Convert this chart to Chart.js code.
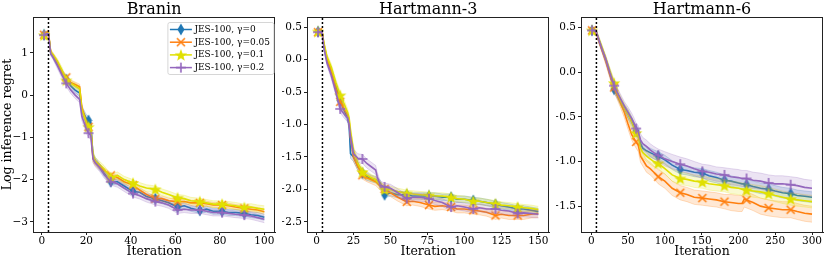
<!DOCTYPE html>
<html>
<head>
<meta charset="utf-8">
<script src="https://cdn.jsdelivr.net/npm/chart.js@4.4.1/dist/chart.umd.min.js"></script>
<style>
  body { margin: 0; background: #fff; width: 830px; height: 260px; position: relative; overflow: hidden; }
  canvas { position: absolute; top: 0; }
</style>
</head>
<body>
<canvas id="c0" width="282" height="260" style="left:0px"></canvas>
<canvas id="c1" width="274" height="260" style="left:282px"></canvas>
<canvas id="c2" width="274" height="260" style="left:556px"></canvas>
<script>
const series_names = ['JES-100, γ=0', 'JES-100, γ=0.05', 'JES-100, γ=0.1', 'JES-100, γ=0.2'];
const series_colors = ['#1f77b4', '#ff7f0e', '#e0e000', '#9467bd'];
const series_markers = ['diamond', 'x', 'star', 'plus'];
const titles = ['Branin', 'Hartmann-3', 'Hartmann-6'];
const n_init = [3, 4, 7];

// Branin
const branin_iter = [1,2,3,4,5, 7,9,11,13,15, 17,18,20,21,22, 23,24,26,28,31, 34,37,41,44,47, 51,54,57,61,64, 67,71,74,77,81, 84,87,91,94,97, 100];
const branin_g0 = [1.43,1.45,1.45,1.0,0.92, 0.75,0.55,0.37,0.22,0.12, 0.05,-0.35,-0.55,-0.6,-0.65, -1.45,-1.55,-1.7,-1.85,-2.05, -2.05,-2.15,-2.28,-2.3,-2.4, -2.45,-2.5,-2.55,-2.65,-2.62, -2.68,-2.73,-2.7,-2.75,-2.75, -2.78,-2.78,-2.8,-2.83,-2.85, -2.89];
const branin_g005 = [1.43,1.48,1.48,1.02,0.95, 0.78,0.55,0.42,0.3,0.25, 0.2,-0.3,-0.65,-0.75,-0.8, -1.5,-1.6,-1.7,-1.78,-1.9, -1.95,-2.05,-2.13,-2.25,-2.35, -2.45,-2.45,-2.5,-2.52,-2.52, -2.55,-2.55,-2.57,-2.6,-2.6, -2.62,-2.65,-2.68,-2.7,-2.72, -2.76];
const branin_g01 = [1.42,1.45,1.47,1.02,0.96, 0.8,0.6,0.35,0.28,0.22, 0.15,-0.35,-0.65,-0.75,-0.78, -1.4,-1.55,-1.65,-1.75,-1.95, -1.9,-2.0,-2.08,-2.15,-2.2, -2.23,-2.3,-2.35,-2.43,-2.45, -2.5,-2.52,-2.55,-2.58,-2.58, -2.6,-2.62,-2.66,-2.65,-2.68, -2.7];
const branin_g02 = [1.42,1.45,1.45,0.98,0.9, 0.7,0.48,0.28,0.12,0.0, -0.1,-0.5,-0.8,-0.9,-0.95, -1.5,-1.6,-1.72,-1.88,-2.05, -2.1,-2.2,-2.33,-2.38,-2.45, -2.52,-2.55,-2.6,-2.72,-2.7, -2.72,-2.72,-2.75,-2.78,-2.78, -2.8,-2.82,-2.84,-2.86,-2.9, -2.94];
const branin_e0 = [0.03,0.03,0.03,0.05,0.05, 0.06,0.06,0.07,0.07,0.07, 0.07,0.09,0.09,0.09,0.09, 0.09,0.08,0.08,0.07,0.07, 0.07,0.07,0.07,0.07,0.07, 0.07,0.07,0.07,0.07,0.07, 0.07,0.07,0.07,0.07,0.07, 0.07,0.07,0.07,0.07,0.07, 0.07];
const branin_e005 = [0.03,0.03,0.03,0.05,0.05, 0.06,0.06,0.06,0.06,0.06, 0.06,0.08,0.08,0.08,0.08, 0.08,0.07,0.07,0.06,0.06, 0.06,0.06,0.06,0.06,0.06, 0.06,0.06,0.06,0.06,0.06, 0.06,0.06,0.06,0.06,0.06, 0.06,0.06,0.06,0.06,0.06, 0.06];
const branin_e01 = [0.03,0.03,0.03,0.05,0.05, 0.06,0.07,0.07,0.07,0.07, 0.07,0.09,0.09,0.09,0.09, 0.09,0.08,0.08,0.08,0.08, 0.08,0.08,0.08,0.08,0.08, 0.08,0.08,0.08,0.08,0.08, 0.08,0.08,0.08,0.08,0.08, 0.08,0.08,0.08,0.08,0.08, 0.08];
const branin_e02 = [0.03,0.03,0.03,0.05,0.05, 0.07,0.07,0.08,0.08,0.08, 0.08,0.1,0.1,0.1,0.1, 0.1,0.09,0.09,0.08,0.08, 0.08,0.08,0.08,0.08,0.08, 0.08,0.08,0.08,0.08,0.08, 0.08,0.08,0.08,0.08,0.08, 0.08,0.08,0.08,0.08,0.08, 0.08];
const branin_marks = [1, 11, 21, 31, 41, 51, 61, 71, 81, 91];
const branin_xticks = [0, 20, 40, 60, 80, 100];
const branin_yticks = [-3, -2, -1, 0, 1];

// Hartmann-3
const h3_iter = [1,3,4,5,7, 10,13,16,19,21, 22,23,25,28,31, 34,37,40,41,43, 46,50,55,61,65, 70,76,80,85,91, 95,100,106,110,115, 121,125,130,136,140, 145,150];
const h3_g0 = [0.43,0.43,0.38,0.2,0.0, -0.18,-0.4,-0.63,-0.8,-0.9, -1.0,-1.45,-1.5,-1.65,-1.75, -1.8,-1.83,-1.85,-1.87,-1.9, -2.08,-2.05,-2.08,-2.08,-2.1, -2.1,-2.1,-2.1,-2.12,-2.12, -2.15,-2.15,-2.17,-2.18,-2.2, -2.23,-2.25,-2.27,-2.3,-2.3, -2.32,-2.34];
const h3_g005 = [0.42,0.45,0.4,0.22,0.02, -0.18,-0.45,-0.65,-0.78,-0.85, -0.95,-1.2,-1.5,-1.65,-1.78, -1.82,-1.85,-1.88,-1.9,-1.95, -1.99,-2.05,-2.12,-2.19,-2.18, -2.2,-2.24,-2.26,-2.25,-2.27, -2.3,-2.3,-2.32,-2.33,-2.35, -2.4,-2.38,-2.4,-2.4,-2.4, -2.38,-2.37];
const h3_g01 = [0.43,0.44,0.4,0.25,0.05, -0.12,-0.35,-0.55,-0.7,-0.82, -0.9,-1.1,-1.4,-1.6,-1.73, -1.78,-1.82,-1.85,-1.88,-1.92, -2.0,-2.0,-2.03,-2.06,-2.07, -2.08,-2.09,-2.1,-2.1,-2.12, -2.14,-2.15,-2.18,-2.18,-2.2, -2.22,-2.24,-2.25,-2.27,-2.28, -2.29,-2.31];
const h3_g02 = [0.42,0.43,0.38,0.18,-0.05, -0.25,-0.5,-0.76,-0.85,-0.9, -1.0,-1.2,-1.45,-1.52,-1.53, -1.6,-1.65,-1.7,-1.8,-1.93, -1.96,-1.98,-2.05,-2.14,-2.12, -2.12,-2.14,-2.17,-2.2,-2.27, -2.25,-2.27,-2.3,-2.28,-2.3, -2.3,-2.32,-2.33,-2.37,-2.36, -2.37,-2.38];
const h3_e0 = [0.03,0.03,0.03,0.04,0.04, 0.05,0.05,0.06,0.06,0.06, 0.06,0.07,0.07,0.06,0.06, 0.06,0.05,0.05,0.05,0.05, 0.05,0.05,0.05,0.05,0.05, 0.05,0.05,0.05,0.05,0.05, 0.05,0.05,0.05,0.05,0.05, 0.05,0.05,0.05,0.05,0.05, 0.05,0.05];
const h3_e005 = [0.03,0.03,0.03,0.04,0.04, 0.05,0.05,0.06,0.06,0.06, 0.06,0.07,0.07,0.06,0.06, 0.06,0.06,0.06,0.06,0.06, 0.06,0.06,0.06,0.06,0.06, 0.06,0.06,0.06,0.06,0.06, 0.06,0.06,0.06,0.06,0.06, 0.06,0.06,0.06,0.06,0.06, 0.06,0.06];
const h3_e01 = [0.03,0.03,0.03,0.04,0.04, 0.05,0.05,0.06,0.06,0.06, 0.06,0.07,0.07,0.06,0.06, 0.06,0.05,0.05,0.05,0.05, 0.05,0.05,0.05,0.05,0.05, 0.05,0.05,0.05,0.05,0.05, 0.05,0.05,0.05,0.05,0.05, 0.05,0.05,0.05,0.05,0.05, 0.05,0.05];
const h3_e02 = [0.03,0.03,0.03,0.04,0.04, 0.05,0.05,0.06,0.06,0.06, 0.06,0.07,0.07,0.07,0.07, 0.07,0.07,0.07,0.07,0.06, 0.06,0.06,0.06,0.06,0.06, 0.06,0.06,0.06,0.06,0.06, 0.06,0.06,0.06,0.06,0.06, 0.06,0.06,0.06,0.06,0.06, 0.06,0.06];
const h3_marks = [1, 16, 31, 46, 61, 76, 91, 106, 121, 136];
const h3_xticks = [0, 25, 50, 75, 100, 125, 150];
const h3_yticks = [-2.5, -2, -1.5, -1, -0.5, 0, 0.5];

// Hartmann-6
const h6_iter = [1,4,7,10,15, 20,25,31,35,40, 45,50,55,58,61, 64,67,70,75,80, 85,91,100,110,121, 130,140,151,160,170, 181,190,200,205,208, 211,220,230,241,250, 260,271,280,290,300];
const h6_g0 = [0.47,0.47,0.45,0.37,0.25, 0.13,0.0,-0.19,-0.25,-0.33, -0.4,-0.47,-0.55,-0.6,-0.66, -0.7,-0.8,-0.85,-0.88,-0.9, -0.92,-0.94,-0.98,-1.04,-1.09, -1.1,-1.12,-1.13,-1.16,-1.18, -1.21,-1.22,-1.24,-1.25,-1.25, -1.26,-1.28,-1.3,-1.31,-1.33, -1.35,-1.36,-1.38,-1.39,-1.4];
const h6_g005 = [0.47,0.48,0.44,0.36,0.24, 0.12,-0.02,-0.17,-0.25,-0.35, -0.45,-0.58,-0.7,-0.74,-0.78, -0.82,-0.94,-0.98,-1.05,-1.08, -1.12,-1.17,-1.22,-1.3,-1.35, -1.37,-1.4,-1.41,-1.42,-1.43, -1.45,-1.46,-1.47,-1.47,-1.42, -1.43,-1.46,-1.5,-1.52,-1.53, -1.54,-1.54,-1.56,-1.58,-1.59];
const h6_g01 = [0.47,0.47,0.45,0.38,0.27, 0.15,0.02,-0.12,-0.22,-0.32, -0.4,-0.47,-0.56,-0.62,-0.68, -0.72,-0.85,-0.9,-0.94,-0.97, -1.0,-1.02,-1.08,-1.15,-1.19, -1.2,-1.22,-1.23,-1.25,-1.26, -1.27,-1.29,-1.3,-1.31,-1.31, -1.32,-1.33,-1.34,-1.36,-1.38, -1.4,-1.42,-1.43,-1.44,-1.45];
const h6_g02 = [0.47,0.47,0.45,0.37,0.25, 0.14,0.0,-0.15,-0.22,-0.3, -0.38,-0.45,-0.52,-0.57,-0.63, -0.67,-0.76,-0.8,-0.83,-0.87, -0.9,-0.93,-0.97,-1.0,-1.03, -1.05,-1.08,-1.11,-1.12,-1.14, -1.15,-1.17,-1.18,-1.19,-1.19, -1.19,-1.21,-1.22,-1.24,-1.25, -1.25,-1.26,-1.27,-1.29,-1.3];
const h6_e0 = [0.02,0.02,0.02,0.03,0.03, 0.03,0.04,0.04,0.04,0.04, 0.04,0.05,0.05,0.05,0.05, 0.05,0.05,0.05,0.05,0.05, 0.05,0.05,0.05,0.05,0.05, 0.05,0.05,0.05,0.06,0.06, 0.06,0.06,0.06,0.06,0.06, 0.06,0.06,0.06,0.06,0.06, 0.06,0.06,0.06,0.06,0.06];
const h6_e005 = [0.02,0.02,0.02,0.03,0.03, 0.04,0.04,0.05,0.05,0.05, 0.06,0.06,0.06,0.07,0.07, 0.07,0.07,0.07,0.07,0.07, 0.07,0.08,0.08,0.08,0.08, 0.08,0.08,0.08,0.08,0.08, 0.08,0.09,0.09,0.09,0.09, 0.09,0.09,0.09,0.09,0.09, 0.09,0.09,0.09,0.09,0.09];
const h6_e01 = [0.02,0.02,0.02,0.03,0.03, 0.03,0.04,0.04,0.05,0.05, 0.05,0.05,0.06,0.06,0.06, 0.06,0.06,0.06,0.06,0.06, 0.06,0.06,0.06,0.07,0.07, 0.07,0.07,0.07,0.07,0.07, 0.07,0.07,0.07,0.07,0.07, 0.07,0.07,0.07,0.07,0.07, 0.07,0.07,0.07,0.07,0.07];
const h6_e02 = [0.02,0.02,0.02,0.03,0.03, 0.04,0.04,0.05,0.05,0.05, 0.05,0.06,0.06,0.06,0.06, 0.07,0.07,0.07,0.07,0.07, 0.07,0.07,0.08,0.08,0.08, 0.08,0.08,0.08,0.08,0.08, 0.08,0.09,0.09,0.09,0.09, 0.09,0.09,0.09,0.09,0.09, 0.09,0.09,0.09,0.09,0.09];
const h6_marks = [1, 31, 61, 91, 121, 151, 181, 211, 241, 271];
const h6_xticks = [0, 50, 100, 150, 200, 250, 300];
const h6_yticks = [-1.5, -1, -0.5, 0, 0.5];

Chart.defaults.font.family = 'DejaVu Serif';
Chart.defaults.color = '#000';

const panels = [
    { id: 'c0', iter: branin_iter, means: [branin_g0, branin_g005, branin_g01, branin_g02], errs: [branin_e0, branin_e005, branin_e01, branin_e02],
      marks: branin_marks, xticks: branin_xticks, yticks: branin_yticks, xmin: -3.95, xmax: 104.95, ymin: -3.24, ymax: 1.85,
      yw: 33, pad_r: 5, digits: 0, ylabel: 'Log inference regret', legend: true },
    { id: 'c1', iter: h3_iter, means: [h3_g0, h3_g005, h3_g01, h3_g02], errs: [h3_e0, h3_e005, h3_e01, h3_e02],
      marks: h3_marks, xticks: h3_xticks, yticks: h3_yticks, xmin: -6.45, xmax: 157.45, ymin: -2.654, ymax: 0.654,
      yw: 25, pad_r: 4, digits: 1, ylabel: '', legend: false },
    { id: 'c2', iter: h6_iter, means: [h6_g0, h6_g005, h6_g01, h6_g02], errs: [h6_e0, h6_e005, h6_e01, h6_e02],
      marks: h6_marks, xticks: h6_xticks, yticks: h6_yticks, xmin: -13.95, xmax: 314.95, ymin: -1.79, ymax: 0.62,
      yw: 25, pad_r: 7, digits: 1, ylabel: '', legend: false },
];

const fade = (hex, a) => {
    const n = parseInt(hex.slice(1), 16);
    return `rgba(${n >> 16}, ${(n >> 8) & 255}, ${n & 255}, ${a})`;
};

// matplotlib-like marker glyphs
const make_marker = (kind, color) => {
    const cv = document.createElement('canvas');
    const w = kind === 'diamond' ? 8 : (kind === 'star' ? 14 : 12);
    const h = kind === 'diamond' ? 13 : w;
    cv.width = w; cv.height = h;
    const g = cv.getContext('2d');
    g.fillStyle = color; g.strokeStyle = color; g.lineWidth = 1.6;
    g.beginPath();
    if (kind === 'diamond') {
        g.moveTo(w / 2, 0.5); g.lineTo(w - 0.5, h / 2); g.lineTo(w / 2, h - 0.5); g.lineTo(0.5, h / 2);
        g.closePath(); g.fill();
    } else if (kind === 'x') {
        g.moveTo(2, 2); g.lineTo(w - 2, h - 2); g.moveTo(w - 2, 2); g.lineTo(2, h - 2); g.stroke();
    } else if (kind === 'plus') {
        g.moveTo(w / 2, 1); g.lineTo(w / 2, h - 1); g.moveTo(1, h / 2); g.lineTo(w - 1, h / 2); g.stroke();
    } else {
        for (let k = 0; k < 10; k++) {
            const r = k % 2 ? 2.7 : 6.5;
            const ang = -Math.PI / 2 + k * Math.PI / 5;
            g.lineTo(w / 2 + r * Math.cos(ang), h / 2 + 0.6 + r * Math.sin(ang));
        }
        g.closePath(); g.fill();
    }
    return cv;
};
const marker_imgs = series_markers.map((m, i) => make_marker(m, series_colors[i]));

const fmt = digits => v => {
    const s = digits ? v.toFixed(digits) : String(Math.round(v));
    return s.replace('-', '\u2212');
};

const box_plugin = {
    id: 'box_plugin',
    afterDraw(chart, args, opts) {
        const ctx = chart.ctx;
        const a = chart.chartArea;
        ctx.save();
        ctx.strokeStyle = '#222';
        ctx.lineWidth = 1;
        ctx.strokeRect(Math.round(a.left) + 0.5, Math.round(a.top) + 0.5, Math.round(a.right - a.left) - 1, Math.round(a.bottom - a.top));
        if (opts.legend) {
            const left = a.right - 108, top = a.top + 5, w = 106, h = 52;
            ctx.fillStyle = 'rgba(255,255,255,0.85)';
            ctx.strokeStyle = '#d6d6d6';
            ctx.beginPath();
            ctx.roundRect(left + 0.5, top + 0.5, w, h, 2);
            ctx.fill(); ctx.stroke();
            ctx.font = '9px DejaVu Serif';
            ctx.textBaseline = 'middle';
            series_names.forEach((name, i) => {
                const y = top + 7.5 + i * 12.7;
                ctx.strokeStyle = series_colors[i];
                ctx.lineWidth = 1.5;
                ctx.beginPath(); ctx.moveTo(left + 2.5, y); ctx.lineTo(left + 24.5, y); ctx.stroke();
                const img = marker_imgs[i];
                ctx.drawImage(img, left + 13.5 - img.width / 2, y - img.height / 2);
                ctx.fillStyle = '#000';
                ctx.fillText(name, left + 27, y);
            });
        }
        ctx.restore();
    }
};

panels.forEach((p, k) => {
    const datasets = [];
    p.means.forEach((mean, s) => {
        const col = series_colors[s];
        const err = p.errs[s];
        datasets.push({
            data: p.iter.map((x, i) => ({ x, y: mean[i] - err[i] })),
            borderColor: fade(col, 0.3), borderWidth: 0.8, pointRadius: 0, fill: false, order: 105 - s * 10,
        });
        datasets.push({
            data: p.iter.map((x, i) => ({ x, y: mean[i] + err[i] })),
            borderColor: fade(col, 0.3), borderWidth: 0.8, pointRadius: 0, fill: '-1',
            backgroundColor: fade(col, 0.18), order: 104 - s * 10,
        });
        datasets.push({
            label: series_names[s],
            data: p.iter.map((x, i) => ({ x, y: mean[i] })),
            borderColor: col, backgroundColor: col, borderWidth: 1.6, fill: false,
            pointStyle: marker_imgs[s],
            pointRadius: c => (c.raw && p.marks.includes(c.raw.x)) ? 5 : 0,
            order: 100 - s * 10,
        });
    });
    // initial design boundary
    datasets.push({
        data: [{ x: n_init[k], y: p.ymin }, { x: n_init[k], y: p.ymax }],
        borderColor: '#000', borderWidth: 1.5, borderDash: [2, 2], pointRadius: 0, fill: false, order: 0,
    });

    new Chart(document.getElementById(p.id), {
        type: 'line',
        data: { datasets },
        options: {
            responsive: false,
            animation: false,
            events: [],
            devicePixelRatio: 1,
            layout: { padding: { left: 0, right: p.pad_r, top: 0, bottom: 0 } },
            scales: {
                x: {
                    type: 'linear', min: p.xmin, max: p.xmax,
                    afterBuildTicks: sc => { sc.ticks = p.xticks.map(v => ({ value: v })); },
                    afterFit: sc => { sc.height = 28; },
                    grid: { drawOnChartArea: false, tickLength: 3, color: '#222' },
                    border: { color: '#222' },
                    ticks: { font: { size: 10.5 }, padding: 0, maxRotation: 0, callback: fmt(0) },
                    title: { display: true, text: 'Iteration', font: { size: 12.5 }, padding: { top: 0, bottom: 1 } },
                },
                y: {
                    type: 'linear', min: p.ymin, max: p.ymax,
                    afterBuildTicks: sc => { sc.ticks = p.yticks.map(v => ({ value: v })); },
                    afterFit: sc => { sc.width = p.yw; },
                    grid: { drawOnChartArea: false, tickLength: 3, color: '#222' },
                    border: { color: '#222' },
                    ticks: { font: { size: 10.5 }, padding: 2, callback: fmt(p.digits) },
                    title: { display: !!p.ylabel, text: p.ylabel, font: { size: 12.5 }, padding: { top: 0, bottom: 0 } },
                },
            },
            plugins: {
                legend: { display: false },
                tooltip: { enabled: false },
                title: {
                    display: true, text: titles[k], fullSize: false,
                    font: { size: 16, weight: 'normal', lineHeight: 0.85 }, padding: { top: 3, bottom: 0.4 }, color: '#000',
                },
                box_plugin: { legend: p.legend },
            },
        },
        plugins: [box_plugin],
    });
});
</script>
</body>
</html>
